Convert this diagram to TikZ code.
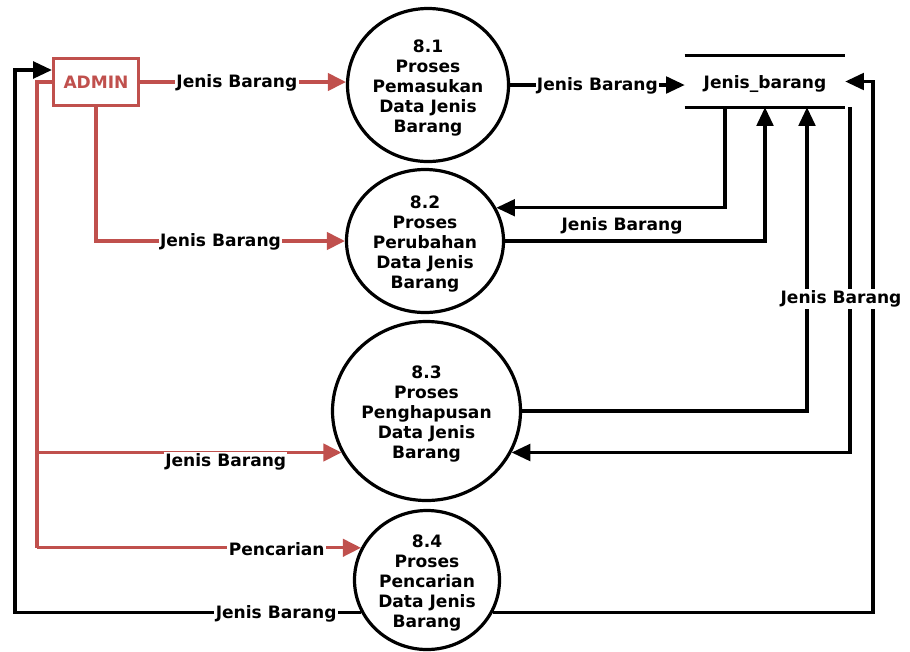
\documentclass[tikz,border=0pt]{standalone}
\usepackage{fontspec}
\setmainfont{DejaVu Sans}
\usetikzlibrary{arrows.meta,shapes.geometric}
\definecolor{admred}{RGB}{192,80,77}
\begin{document}
\begin{tikzpicture}[x=0.75pt,y=-0.75pt,
  txt/.style={font=\fontsize{12.8}{15}\selectfont\bfseries, align=center, inner sep=0pt},
  proc/.style={ellipse, draw=black, line width=2.4pt, inner sep=0pt},
  flow/.style={draw=black, line width=2.4pt, -{Triangle[length=14pt,width=12.5pt]}},
  rflow/.style={draw=admred, line width=2.4pt, -{Triangle[length=13.5pt,width=13pt]}},
  rline/.style={draw=admred, line width=2.4pt},
  lab/.style={txt, fill=white, inner sep=1pt},
  store line/.style={draw=black, line width=2.4pt}]
\useasboundingbox (0,0) rectangle (910,651);

% external entity
\node[draw=admred, line width=2.4pt, fill=white, minimum width=63.75pt, minimum height=35.25pt,
      inner sep=0pt, text=admred, font=\fontsize{12.8}{15}\selectfont\bfseries] (admin) at (96,82) {ADMIN};

% processes
\node[proc, minimum width=120.75pt, minimum height=114.75pt] (p1) at (428,85) {};
\node[txt, yshift=-2pt] (t1) at (p1) {8.1\\Proses\\Pemasukan\\Data Jenis\\Barang};
\node[proc, minimum width=117.75pt, minimum height=107.25pt] (p2) at (425,241) {};
\node[txt, yshift=-2pt] (t2) at (p2) {8.2\\Proses\\Perubahan\\Data Jenis\\Barang};
\node[proc, minimum width=141pt, minimum height=134.25pt] (p3) at (426.5,411) {};
\node[txt, yshift=-2pt] (t3) at (p3) {8.3\\Proses\\Penghapusan\\Data Jenis\\Barang};
\node[proc, minimum width=108.75pt, minimum height=104.25pt] (p4) at (427,580) {};
\node[txt, yshift=-2pt] (t4) at (p4) {8.4\\Proses\\Pencarian\\Data Jenis\\Barang};

% data store
\node[minimum width=120pt, minimum height=38.25pt, inner sep=0pt] (store) at (765,81.5) {};
\node[txt, yshift=-2pt] (st) at (store) {Jenis\_barang};
\draw[store line] (store.north west) -- (store.north east);
\draw[store line] (store.south west) -- (store.south east);

% helper columns
\coordinate (rx) at (37,0);
\coordinate (lx) at (15,0);
\coordinate (ox) at (873,0);
\coordinate (ra) at (p4.154 -| rx);
\coordinate (lb) at (p4.206 -| lx);

% flows from ADMIN
\draw[rflow] (admin.east) -- node[lab, pos=0.47, yshift=-1pt] {Jenis Barang} (admin.east -| p1.west);
\draw[rflow] (admin.south) |- node[lab, pos=0.75, yshift=-1pt] {Jenis Barang} (p2.west);
\draw[rline] (admin.west) -| (ra);
\draw[rflow] (p3.206 -| ra) -- node[lab, pos=0.62, yshift=-7pt] {Jenis Barang} (p3.206);
\draw[rflow] (ra) -- node[lab, pos=0.74, yshift=-1pt] {Pencarian} (p4.154);

% flows to and from the store
\draw[flow] (p1.east) -- node[lab, yshift=-1pt] {Jenis Barang} (p1.east -| store.west);
\draw[flow] ([xshift=-30pt]store.south) |- (p2.25);
\draw[flow] (p2.east) -| node[txt, pos=0.225, above=4pt] {Jenis Barang} (store.south);
\draw[flow] (p3.east) -| ([xshift=31.5pt]store.south);
\draw[flow] ([xshift=63.75pt]store.south) |- (p3.334);

% results of the search
\draw[flow] (p4.206) -- node[lab, pos=0.245, yshift=-1pt] {Jenis Barang} (lb) |- ([yshift=9pt]admin.west);
\draw[flow] (p4.334) -| (store.east -| ox) -- (store.east);

\node[lab] (lbr) at (841,299) {Jenis Barang};
\end{tikzpicture}
\end{document}
